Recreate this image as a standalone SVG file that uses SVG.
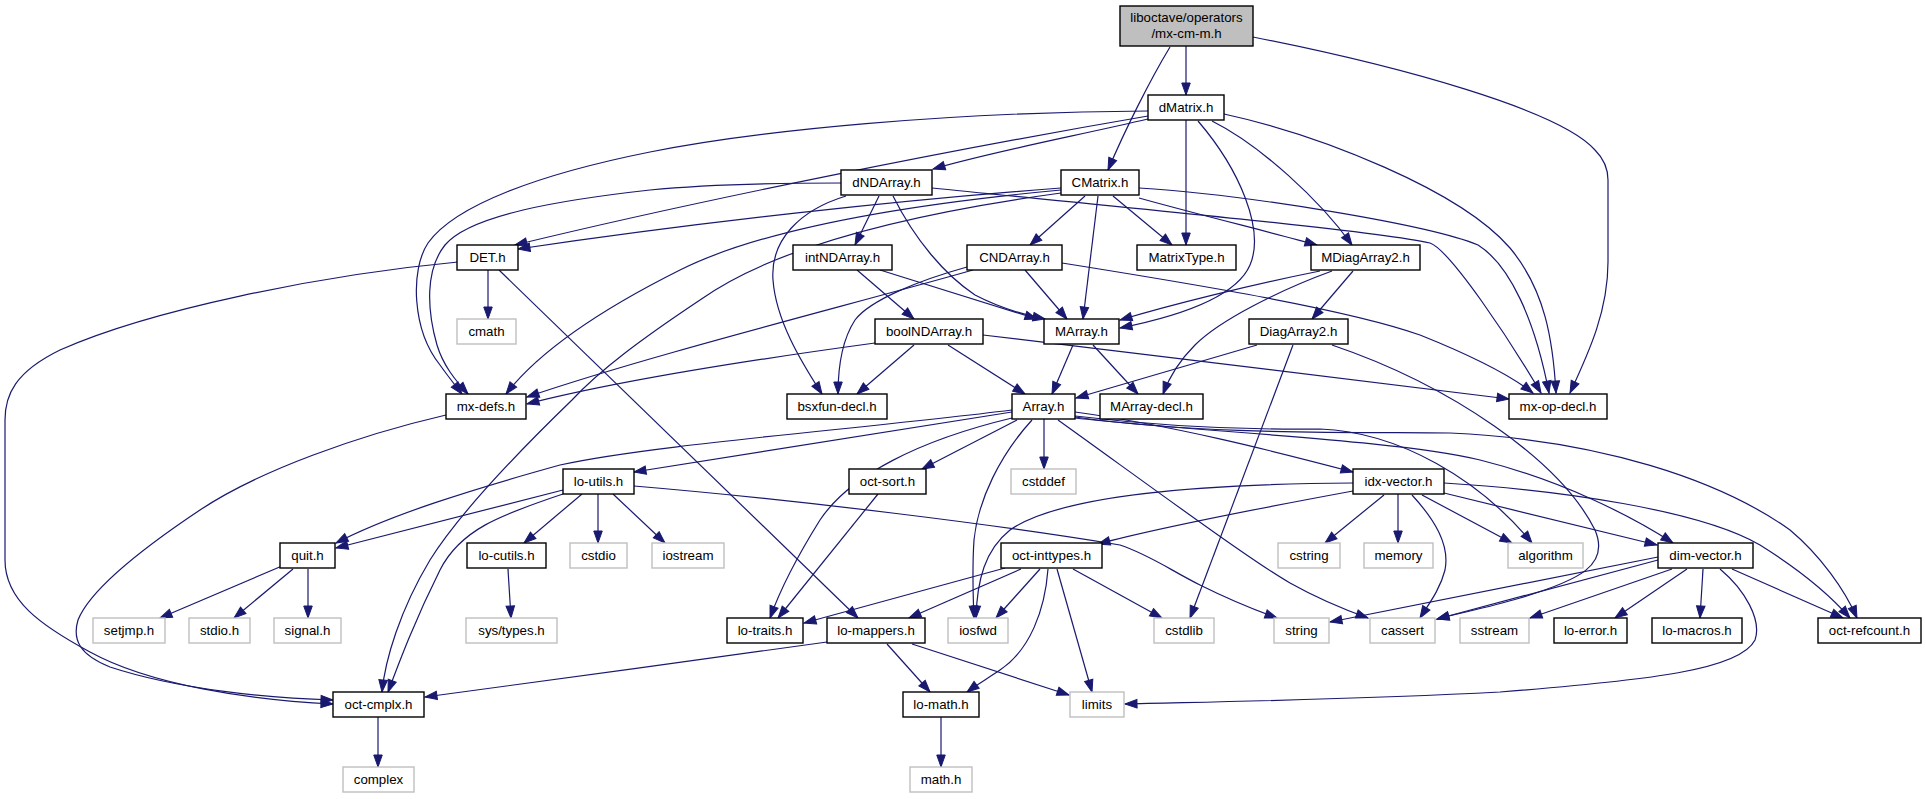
<svg xmlns="http://www.w3.org/2000/svg" width="1926" height="799" viewBox="0 0 1926 799">
<style>
.n rect{fill:#fff;stroke:#000;stroke-width:1.4}
.x rect{fill:#fff;stroke:#bfbfbf;stroke-width:1.4}
.r rect{fill:#bfbfbf;stroke:#000;stroke-width:1.4}
text{font-family:"Liberation Sans",Arial,Helvetica,sans-serif;font-size:13.3px;fill:#000;text-anchor:middle}
#edges path{fill:none;stroke:#191970;stroke-width:1.2;marker-end:url(#a)}
</style>
<defs>
<marker id="a" markerUnits="userSpaceOnUse" markerWidth="12" markerHeight="9" refX="12" refY="4.25" orient="auto" overflow="visible">
<path d="M0,0 L12,4.25 L0,8.5 z" fill="#191970" stroke="#191970" stroke-width="1"/>
</marker>
</defs>
<rect x="0" y="0" width="1926" height="799" fill="#fff"/>
<g id="edges">
<path d="M1186,46 L1186,95"/>
<path d="M1170,47 C1150,80 1125,130 1108,170"/>
<path d="M1253,37 C1400,66 1560,110 1595,150 C1605,160 1608,170 1608,180 L1608,262 C1608,310 1590,350 1570,393"/>
<path d="M1148,111 C950,112 760,130 650,152 C540,174 455,205 428,243 C410,270 412,330 440,365 C447,375 455,385 462,394"/>
<path d="M841,183 C780,183 700,185 650,190 C560,200 470,215 445,245 C425,270 427,310 437,345 C443,365 455,380 468,394"/>
<path d="M1148,116 C950,150 700,200 515,245"/>
<path d="M1061,188 C900,200 700,222 518,249"/>
<path d="M1148,119 C1080,135 990,152 933,169"/>
<path d="M1186,120 L1186,245"/>
<path d="M1198,121 C1240,170 1265,230 1250,265 C1235,300 1170,318 1120,328"/>
<path d="M1212,121 C1260,145 1320,200 1352,245"/>
<path d="M1224,114 C1320,135 1460,190 1510,248 C1545,290 1553,340 1556,393"/>
<path d="M1139,188 C1250,195 1430,225 1478,245 C1510,265 1535,320 1549,393"/>
<path d="M932,188 C1100,205 1370,230 1430,243 C1450,250 1510,340 1541,393"/>
<path d="M1062,263 C1200,285 1350,310 1420,335 C1470,355 1510,375 1533,393"/>
<path d="M983,335 C1150,355 1400,385 1509,399"/>
<path d="M1085,196 L1030,245"/>
<path d="M1098,196 L1083,319"/>
<path d="M1113,196 L1172,245"/>
<path d="M1139,198 C1200,215 1270,232 1317,245"/>
<path d="M846,196 C800,210 770,240 773,280 C776,320 800,360 822,394"/>
<path d="M879,196 L855,245"/>
<path d="M893,196 C915,240 945,275 975,295 C1000,308 1025,315 1045,319"/>
<path d="M857,270 L914,319"/>
<path d="M880,270 L1037,319"/>
<path d="M1025,270 L1067,319"/>
<path d="M967,267 C920,280 870,300 855,320 C842,340 838,365 838,394"/>
<path d="M973,270 C850,305 650,355 527,397"/>
<path d="M875,343 C750,360 620,380 527,404"/>
<path d="M1061,190 C900,205 760,230 680,270 C600,310 540,350 506,394"/>
<path d="M1061,193 C900,215 770,250 700,300 C640,340 600,370 572,400 C510,460 455,520 430,560 C400,610 385,660 382,692"/>
<path d="M488,270 L488,319"/>
<path d="M458,262 C320,275 150,310 60,350 C15,372 5,395 5,420 L5,560 C5,600 40,625 90,652 C150,685 250,700 333,704"/>
<path d="M499,270 L858,618"/>
<path d="M446,415 C360,435 260,470 200,510 C140,550 90,590 78,620 C72,640 80,655 110,667 C180,690 270,698 333,700"/>
<path d="M1012,412 L634,472"/>
<path d="M1012,410 C850,430 650,445 560,465 C470,490 390,515 336,543"/>
<path d="M563,490 L336,548"/>
<path d="M563,494 C500,515 460,530 440,570 C415,620 400,660 388,692"/>
<path d="M582,494 L524,543"/>
<path d="M598,494 L598,543"/>
<path d="M613,494 L665,543"/>
<path d="M634,486 C800,500 1000,525 1120,545 C1150,555 1170,570 1200,585 C1230,600 1255,610 1277,618"/>
<path d="M282,566 L160,618"/>
<path d="M293,569 L234,618"/>
<path d="M308,569 L308,618"/>
<path d="M508,569 L511,618"/>
<path d="M378,717 L378,767"/>
<path d="M878,494 L778,618"/>
<path d="M1012,418 C920,440 850,475 820,520 C795,560 780,590 770,618"/>
<path d="M1017,420 L922,469"/>
<path d="M1032,420 C1000,455 978,500 974,540 C972,570 973,595 974,618"/>
<path d="M1044,419 L1044,469"/>
<path d="M1058,420 C1150,486 1250,560 1290,583 C1315,597 1340,608 1368,618"/>
<path d="M1075,412 C1170,425 1270,450 1353,472"/>
<path d="M1075,416 C1150,425 1240,430 1320,429 C1400,432 1480,480 1532,543"/>
<path d="M1075,418 C1200,432 1400,440 1480,460 C1560,480 1630,515 1673,543"/>
<path d="M1075,417 C1200,435 1350,432 1450,433 C1600,440 1720,480 1790,530 C1820,555 1845,590 1857,618"/>
<path d="M1353,491 C1250,510 1150,530 1098,544"/>
<path d="M1353,483 C1200,484 1060,495 1010,530 C985,550 977,580 976,618"/>
<path d="M1384,495 L1325,543"/>
<path d="M1398,494 L1398,543"/>
<path d="M1412,495 C1435,520 1450,545 1445,570 C1440,590 1428,605 1420,618"/>
<path d="M1422,495 L1512,543"/>
<path d="M1444,493 L1657,545"/>
<path d="M1444,483 C1560,490 1700,510 1760,545 C1800,570 1830,595 1850,618"/>
<path d="M1658,557 L1330,622"/>
<path d="M1658,560 L1437,619"/>
<path d="M1672,569 L1530,618"/>
<path d="M1687,569 L1615,618"/>
<path d="M1703,569 L1700,618"/>
<path d="M1732,569 L1843,618"/>
<path d="M1720,569 C1745,590 1762,620 1755,640 C1740,670 1650,680 1500,692 C1350,700 1200,702 1125,704"/>
<path d="M1005,568 L804,623"/>
<path d="M1021,569 L909,618"/>
<path d="M1040,569 L996,618"/>
<path d="M1048,569 C1045,610 1030,650 1000,670 C985,680 975,686 967,692"/>
<path d="M1057,569 L1092,692"/>
<path d="M1073,569 L1162,618"/>
<path d="M827,642 C700,660 550,680 425,697"/>
<path d="M887,644 L930,692"/>
<path d="M912,644 L1069,695"/>
<path d="M941,717 L941,767"/>
<path d="M1257,345 L1076,398"/>
<path d="M1293,345 L1190,618"/>
<path d="M1332,345 C1450,385 1560,460 1595,530 C1610,565 1580,580 1520,598 C1490,607 1460,613 1437,619"/>
<path d="M1320,271 C1250,285 1170,305 1120,320"/>
<path d="M1332,271 C1280,290 1220,320 1195,345 C1180,360 1170,375 1163,394"/>
<path d="M1353,271 L1312,319"/>
<path d="M1073,345 L1052,394"/>
<path d="M1093,345 L1138,394"/>
<path d="M914,345 L857,394"/>
<path d="M948,345 L1025,394"/>
</g>
<g id="n_root" class="r"><rect x="1120" y="6" width="133" height="40"/><text x="1186.5" y="22">liboctave/operators</text><text x="1186.5" y="38">/mx-cm-m.h</text></g>
<g id="n_dMatrix" class="n"><rect x="1148" y="95" width="76" height="25"/><text x="1186" y="112">dMatrix.h</text></g>
<g id="n_dNDArray" class="n"><rect x="841" y="170" width="91" height="25"/><text x="886.5" y="187">dNDArray.h</text></g>
<g id="n_CMatrix" class="n"><rect x="1061" y="170" width="78" height="25"/><text x="1100" y="187">CMatrix.h</text></g>
<g id="n_DET" class="n"><rect x="457" y="245" width="61" height="25"/><text x="487.5" y="262">DET.h</text></g>
<g id="n_intNDArray" class="n"><rect x="793" y="245" width="99" height="25"/><text x="842.5" y="262">intNDArray.h</text></g>
<g id="n_CNDArray" class="n"><rect x="967" y="245" width="95" height="25"/><text x="1014.5" y="262">CNDArray.h</text></g>
<g id="n_MatrixType" class="n"><rect x="1137" y="245" width="99" height="25"/><text x="1186.5" y="262">MatrixType.h</text></g>
<g id="n_MDiagArray2" class="n"><rect x="1311" y="245" width="109" height="25"/><text x="1365.5" y="262">MDiagArray2.h</text></g>
<g id="n_cmath" class="x"><rect x="457" y="319" width="59" height="25"/><text x="486.5" y="336">cmath</text></g>
<g id="n_boolNDArray" class="n"><rect x="875" y="319" width="108" height="25"/><text x="929" y="336">boolNDArray.h</text></g>
<g id="n_MArray" class="n"><rect x="1044" y="319" width="75" height="25"/><text x="1081.5" y="336">MArray.h</text></g>
<g id="n_DiagArray2" class="n"><rect x="1249" y="319" width="99" height="25"/><text x="1298.5" y="336">DiagArray2.h</text></g>
<g id="n_mxdefs" class="n"><rect x="446" y="394" width="80" height="25"/><text x="486" y="411">mx-defs.h</text></g>
<g id="n_bsxfun" class="n"><rect x="787" y="394" width="100" height="25"/><text x="837" y="411">bsxfun-decl.h</text></g>
<g id="n_Array" class="n"><rect x="1012" y="394" width="63" height="25"/><text x="1043.5" y="411">Array.h</text></g>
<g id="n_MArraydecl" class="n"><rect x="1100" y="394" width="103" height="25"/><text x="1151.5" y="411">MArray-decl.h</text></g>
<g id="n_mxopdecl" class="n"><rect x="1509" y="394" width="98" height="25"/><text x="1558" y="411">mx-op-decl.h</text></g>
<g id="n_loutils" class="n"><rect x="563" y="469" width="71" height="25"/><text x="598.5" y="486">lo-utils.h</text></g>
<g id="n_octsort" class="n"><rect x="849" y="469" width="77" height="25"/><text x="887.5" y="486">oct-sort.h</text></g>
<g id="n_cstddef" class="x"><rect x="1011" y="469" width="65" height="25"/><text x="1043.5" y="486">cstddef</text></g>
<g id="n_idxvector" class="n"><rect x="1353" y="469" width="91" height="25"/><text x="1398.5" y="486">idx-vector.h</text></g>
<g id="n_quit" class="n"><rect x="280" y="543" width="55" height="25"/><text x="307.5" y="560">quit.h</text></g>
<g id="n_locutils" class="n"><rect x="467" y="543" width="79" height="25"/><text x="506.5" y="560">lo-cutils.h</text></g>
<g id="n_cstdio" class="x"><rect x="570" y="543" width="57" height="25"/><text x="598.5" y="560">cstdio</text></g>
<g id="n_iostream" class="x"><rect x="652" y="543" width="72" height="25"/><text x="688" y="560">iostream</text></g>
<g id="n_octinttypes" class="n"><rect x="1001" y="543" width="101" height="25"/><text x="1051.5" y="560">oct-inttypes.h</text></g>
<g id="n_cstring" class="x"><rect x="1278" y="543" width="62" height="25"/><text x="1309" y="560">cstring</text></g>
<g id="n_memory" class="x"><rect x="1364" y="543" width="69" height="25"/><text x="1398.5" y="560">memory</text></g>
<g id="n_algorithm" class="x"><rect x="1508" y="543" width="75" height="25"/><text x="1545.5" y="560">algorithm</text></g>
<g id="n_dimvector" class="n"><rect x="1658" y="543" width="95" height="25"/><text x="1705.5" y="560">dim-vector.h</text></g>
<g id="n_setjmp" class="x"><rect x="93" y="618" width="72" height="25"/><text x="129" y="635">setjmp.h</text></g>
<g id="n_stdio" class="x"><rect x="189" y="618" width="61" height="25"/><text x="219.5" y="635">stdio.h</text></g>
<g id="n_signal" class="x"><rect x="274" y="618" width="67" height="25"/><text x="307.5" y="635">signal.h</text></g>
<g id="n_systypes" class="x"><rect x="466" y="618" width="91" height="25"/><text x="511.5" y="635">sys/types.h</text></g>
<g id="n_lotraits" class="n"><rect x="727" y="618" width="76" height="25"/><text x="765" y="635">lo-traits.h</text></g>
<g id="n_lomappers" class="n"><rect x="827" y="618" width="98" height="25"/><text x="876" y="635">lo-mappers.h</text></g>
<g id="n_iosfwd" class="x"><rect x="948" y="618" width="60" height="25"/><text x="978" y="635">iosfwd</text></g>
<g id="n_cstdlib" class="x"><rect x="1154" y="618" width="60" height="25"/><text x="1184" y="635">cstdlib</text></g>
<g id="n_string" class="x"><rect x="1274" y="618" width="55" height="25"/><text x="1301.5" y="635">string</text></g>
<g id="n_cassert" class="x"><rect x="1370" y="618" width="65" height="25"/><text x="1402.5" y="635">cassert</text></g>
<g id="n_sstream" class="x"><rect x="1460" y="618" width="69" height="25"/><text x="1494.5" y="635">sstream</text></g>
<g id="n_loerror" class="n"><rect x="1554" y="618" width="73" height="25"/><text x="1590.5" y="635">lo-error.h</text></g>
<g id="n_lomacros" class="n"><rect x="1652" y="618" width="90" height="25"/><text x="1697" y="635">lo-macros.h</text></g>
<g id="n_octrefcount" class="n"><rect x="1818" y="618" width="103" height="25"/><text x="1869.5" y="635">oct-refcount.h</text></g>
<g id="n_octcmplx" class="n"><rect x="333" y="692" width="91" height="25"/><text x="378.5" y="709">oct-cmplx.h</text></g>
<g id="n_lomath" class="n"><rect x="903" y="692" width="76" height="25"/><text x="941" y="709">lo-math.h</text></g>
<g id="n_limits" class="x"><rect x="1070" y="692" width="54" height="25"/><text x="1097" y="709">limits</text></g>
<g id="n_complex" class="x"><rect x="343" y="767" width="71" height="25"/><text x="378.5" y="784">complex</text></g>
<g id="n_mathh" class="x"><rect x="910" y="767" width="62" height="25"/><text x="941" y="784">math.h</text></g>
</svg>
